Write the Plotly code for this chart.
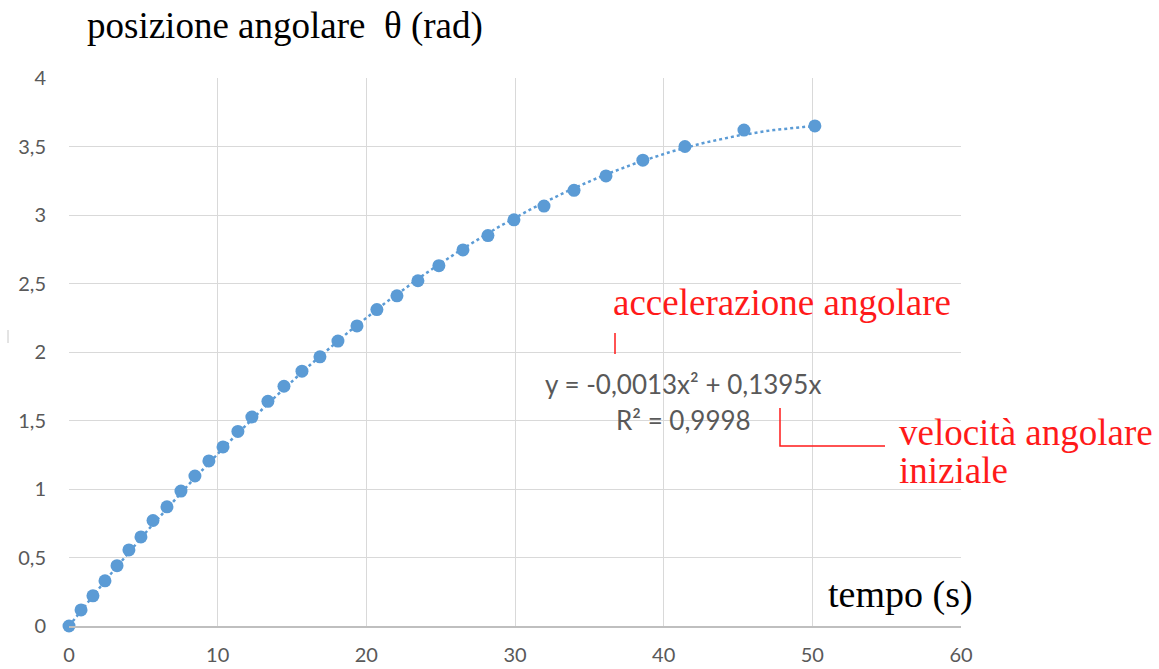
import numpy as np
import plotly.graph_objects as go

# data
tempo_s = [0, 0.81, 1.61, 2.42, 3.23, 4.03, 4.84, 5.65, 6.59, 7.53, 8.47, 9.41,
           10.36, 11.36, 12.3, 13.38, 14.46, 15.67, 16.88, 18.09, 19.37, 20.71,
           22.06, 23.47, 24.88, 26.5, 28.18, 29.93, 31.95, 33.97, 36.12, 38.6,
           41.43, 45.4, 50.17]
theta_rad = [0, 0.117, 0.22, 0.33, 0.44, 0.555, 0.65, 0.77, 0.87, 0.985, 1.095,
             1.205, 1.307, 1.42, 1.525, 1.64, 1.75, 1.86, 1.965, 2.08, 2.19, 2.31,
             2.41, 2.52, 2.63, 2.745, 2.85, 2.965, 3.065, 3.18, 3.285, 3.40, 3.50,
             3.62, 3.65]
x_ticks = [0, 10, 20, 30, 40, 50, 60]
y_ticks = [0, 0.5, 1, 1.5, 2, 2.5, 3, 3.5, 4]

# polynomial trendline (order 2, intercept 0) fitted to the data
t = np.array(tempo_s)
th = np.array(theta_rad)
A = np.vstack([t ** 2, t]).T
coef, *_ = np.linalg.lstsq(A, th, rcond=None)
tt = np.linspace(0, t.max(), 200)
fit = coef[0] * tt ** 2 + coef[1] * tt

BLUE = "#5b9bd5"
GRID = "#d9d9d9"
TXT = "#595959"
RED = "#ff1a1a"

fig = go.Figure()
fig.add_trace(go.Scatter(x=tt, y=fit, mode="lines",
                         line=dict(color=BLUE, width=2.5, dash="dot"),
                         hoverinfo="skip", showlegend=False, cliponaxis=False))
fig.add_trace(go.Scatter(x=tempo_s, y=theta_rad, mode="markers",
                         marker=dict(color=BLUE, size=13),
                         showlegend=False, cliponaxis=False))

W, H = 1159, 669
L, T = 69, 78
pw, ph = 892, 548
R, B = W - L - pw, H - T - ph


def px(sx):
    return (sx - L) / pw


def py(sy):
    return (T + ph - sy) / ph


fig.update_layout(
    width=W, height=H,
    margin=dict(l=L, r=R, t=T, b=B, pad=0, autoexpand=False),
    paper_bgcolor="white", plot_bgcolor="white",
    separators=",.",
    xaxis=dict(range=[0, 60], tickvals=x_ticks, showgrid=True, gridcolor=GRID,
               gridwidth=1, zeroline=False, showline=True, linecolor="#bfbfbf",
               linewidth=1.5, ticks="", automargin=False,
               tickfont=dict(family="Lato", size=20, color=TXT),
               ticklabelstandoff=10),
    yaxis=dict(range=[0, 4], tickvals=y_ticks, showgrid=True, gridcolor=GRID,
               gridwidth=1, zeroline=False, showline=False, ticks="",
               automargin=False,
               tickfont=dict(family="Lato", size=20, color=TXT),
               ticklabelstandoff=22),
    font=dict(family="Lato"),
)

serif = dict(family="Liberation Serif", size=37, color="black")
red_serif = dict(family="Liberation Serif", size=37, color=RED)
ann = [
    dict(text="posizione angolare  θ (rad)", x=px(85), y=py(26), xanchor="left",
         yanchor="middle", font=serif),
    dict(text="tempo (s)", x=px(826), y=py(594), xanchor="left", yanchor="middle",
         font=dict(family="Liberation Serif", size=38, color="black")),
    dict(text="accelerazione angolare", x=px(611), y=py(302), xanchor="left",
         yanchor="middle", font=red_serif),
    dict(text="velocità angolare", x=px(897), y=py(432), xanchor="left",
         yanchor="middle", font=red_serif),
    dict(text="iniziale", x=px(897), y=py(470), xanchor="left", yanchor="middle",
         font=red_serif),
    dict(text="y = -0,0013x² + 0,1395x", x=px(683), y=py(384), xanchor="center",
         yanchor="middle", font=dict(family="Lato", size=26, color=TXT)),
    dict(text="R² = 0,9998", x=px(683), y=py(420), xanchor="center",
         yanchor="middle", font=dict(family="Lato", size=26, color=TXT)),
]
for a in ann:
    fig.add_annotation(xref="paper", yref="paper", showarrow=False, **a)

red_line = dict(color=RED, width=1.5)
fig.add_shape(type="line", xref="paper", yref="paper", x0=px(615), x1=px(615),
              y0=py(333), y1=py(354), line=red_line)
fig.add_shape(type="path", xref="paper", yref="paper",
              path=f"M {px(780)} {py(408)} L {px(780)} {py(446)} L {px(885)} {py(446)}",
              line=red_line)
fig.add_shape(type="line", xref="paper", yref="paper", x0=px(8), x1=px(8),
              y0=py(330), y1=py(343), line=dict(color="#c8c8c8", width=1))

fig.write_html("out.html",
               config={"displayModeBar": False},
               post_script="document.body.style.margin='0px';"
                           "document.body.style.overflow='hidden';")
